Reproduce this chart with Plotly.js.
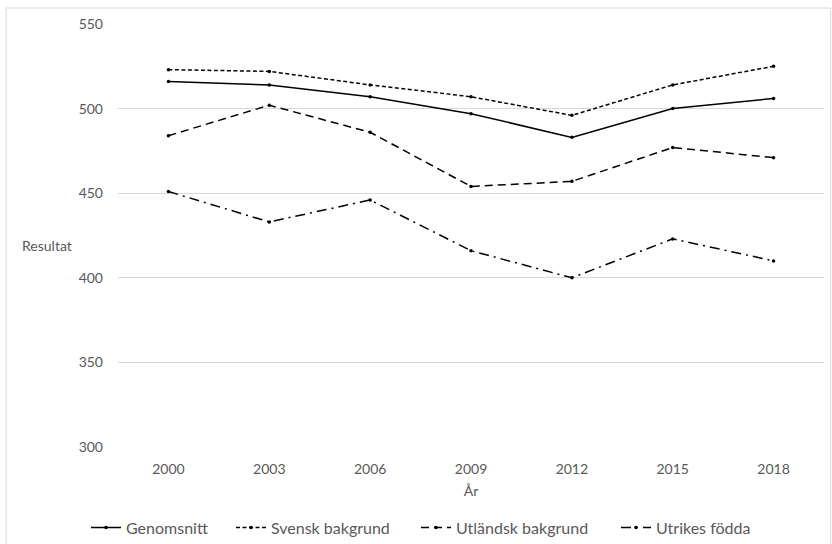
<!DOCTYPE html>
<html>
<head>
<meta charset="utf-8">
<script src="https://cdn.plot.ly/plotly-3.0.1.min.js"></script>
<style>
  html, body { margin: 0; padding: 0; background: #ffffff; }
  #chart { width: 832px; height: 544px; }
</style>
</head>
<body>
<div id="chart"></div>
<script>
const years = ["2000", "2003", "2006", "2009", "2012", "2015", "2018"];
const genomsnitt = [516, 514, 507, 497, 483, 500, 506];
const svenskBakgrund = [523, 522, 514, 507, 496, 514, 525];
const utlandskBakgrund = [484, 502, 486, 454, 457, 477, 471];
const utrikesFodda = [451, 433, 446, 416, 400, 423, 410];

const seriesNames = ["Genomsnitt", "Svensk bakgrund", "Utländsk bakgrund", "Utrikes födda"];
const seriesValues = [genomsnitt, svenskBakgrund, utlandskBakgrund, utrikesFodda];
const dashes = ["solid", "4px,2.5px", "8px,5px", "10px,5px,2px,5px"];
const legendIds = ["legend", "legend2", "legend3", "legend4"];
const legendX = [93, 238, 423, 623];

const traces = seriesValues.map((vals, i) => ({
  type: "scatter",
  mode: "lines+markers",
  name: seriesNames[i],
  legend: legendIds[i],
  x: years,
  y: vals,
  line: { color: "#000000", width: 1.5, dash: dashes[i] },
  marker: { color: "#000000", size: 3.5, symbol: "circle" }
}));

const textColor = "#595959";
const fontFam = "Lato, 'Open Sans', sans-serif";

const layout = {
  width: 832,
  height: 544,
  margin: { l: 118, r: 8, t: 24, b: 97, autoexpand: false },
  paper_bgcolor: "#ffffff",
  plot_bgcolor: "#ffffff",
  font: { family: fontFam, size: 14, color: textColor },
  showlegend: true,
  xaxis: {
    type: "category",
    range: [-0.5, 6.5],
    automargin: false,
    showgrid: false,
    showline: false,
    zeroline: false,
    ticks: "",
    tickfont: { family: fontFam, size: 14, color: textColor },
    ticklabelstandoff: 12,
    title: { text: "År", font: { family: fontFam, size: 14, color: textColor }, standoff: 10 }
  },
  yaxis: {
    range: [300, 550],
    dtick: 50,
    tick0: 300,
    automargin: false,
    showgrid: true,
    gridcolor: "#d9d9d9",
    gridwidth: 1,
    zeroline: false,
    showline: false,
    ticks: "",
    tickfont: { family: fontFam, size: 14, color: textColor },
    ticklabelstandoff: 14
  },
  annotations: [{
    xref: "paper", yref: "paper",
    x: -0.1388, y: 0.4775,
    xanchor: "left", yanchor: "middle",
    text: "Resultat",
    showarrow: false,
    font: { family: fontFam, size: 14, color: textColor }
  }],
  shapes: [{
    type: "rect",
    xref: "paper", yref: "paper",
    x0: -0.1586, x1: 1.0095,
    y0: -0.27, y1: 1.0378,
    line: { color: "#d9d9d9", width: 1 },
    fillcolor: "rgba(0,0,0,0)",
    layer: "below"
  }]
};

legendIds.forEach((id, i) => {
  layout[id] = {
    orientation: "h",
    xref: "container", yref: "container",
    x: (legendX[i] - 7) / 832, xanchor: "left",
    y: 0.03, yanchor: "middle",
    font: { family: fontFam, size: 16, color: textColor },
    itemwidth: 30,
    bgcolor: "rgba(0,0,0,0)"
  };
});

Plotly.newPlot("chart", traces, layout, { displayModeBar: false, staticPlot: true });
</script>
</body>
</html>
